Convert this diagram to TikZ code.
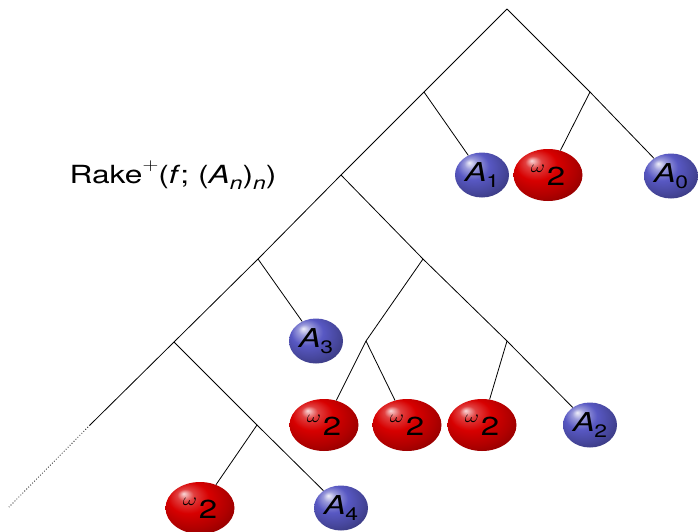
\documentclass[tikz,border=0pt]{standalone}
\usepackage{fontspec}
\setmainfont{TeX Gyre Heros}
\usetikzlibrary{shapes.geometric}
\definecolor{bb}{RGB}{88,88,195}
\definecolor{rr}{RGB}{215,0,0}
\pgfdeclareradialshading{myblue}{\pgfpoint{-12bp}{14bp}}{color(0bp)=(bb!10!white); color(6bp)=(bb!60!white); color(15bp)=(bb); color(26bp)=(bb!80!black); color(38bp)=(bb!55!black); color(50bp)=(bb!35!black)}
\pgfdeclareradialshading{myred}{\pgfpoint{-12bp}{14bp}}{color(0bp)=(rr!15!white); color(6bp)=(rr!75!white); color(15bp)=(rr); color(26bp)=(rr!82!black); color(38bp)=(rr!58!black); color(50bp)=(rr!38!black)}
\newcommand{\hs}[1]{\scalebox{1.27}[1]{#1}}
\newcommand{\sub}[1]{\raisebox{-0.22em}{\fontsize{18}{18}\selectfont #1}}
\newcommand{\Aleaf}[1]{\hs{\textit{A}\kern-0.5pt\sub{#1}}}
\newcommand{\oleaf}{\hs{\raisebox{0.5em}{\fontsize{18}{18}\selectfont$\omega$}\kern1.5pt 2}}
\begin{document}
\begin{tikzpicture}[x=1pt,y=-1pt,
  edge/.style={draw=black,line width=0.8pt},
  bleaf/.style={ellipse,shading=myblue,inner sep=0pt,
    minimum width=54pt,minimum height=45pt,font=\fontsize{26}{30}\selectfont},
  rleaf/.style={ellipse,shading=myred,inner sep=0pt,
    minimum width=69pt,minimum height=52pt,font=\fontsize{26}{30}\selectfont},
  lbl/.style={font=\fontsize{25}{30}\selectfont,inner sep=0pt}]
\useasboundingbox (0,0) rectangle (698,532);
% internal points
\coordinate (r) at (507,9);
\coordinate (n1) at (424,92);
\coordinate (n2) at (590,92);
\coordinate (n3) at (341,175);
\coordinate (n4) at (258,259);
\coordinate (n5) at (423,259);
\coordinate (n6) at (174,342);
\coordinate (n7) at (366,341);
\coordinate (n8) at (507,341);
\coordinate (n9) at (90,425);
\coordinate (n10) at (257,425);
\coordinate (e) at (9,507);
% leaves
\node[bleaf] (a1) at (482,175) {\Aleaf{1}};
\node[rleaf] (w1) at (548,175) {\oleaf};
\node[bleaf] (a0) at (671,176) {\Aleaf{0}};
\node[bleaf] (a3) at (316,341) {\Aleaf{3}};
\node[rleaf] (w2) at (324,425) {\oleaf};
\node[rleaf] (w3) at (407,425) {\oleaf};
\node[rleaf] (w4) at (482,425) {\oleaf};
\node[bleaf] (a2) at (590,425) {\Aleaf{2}};
\node[rleaf] (w5) at (200,508) {\oleaf};
\node[bleaf] (a4) at (341,508) {\Aleaf{4}};
\node[lbl] (t) at (173,175) {\hs{Rake\raisebox{0.55em}{\fontsize{17}{17}\selectfont$+$}(\textit{f}; (\textit{A}\sub{\textit{n}})\sub{\textit{n}})}};
% edges
\draw[edge] (r) -- (n1) -- (n3) -- (n4) -- (n6) -- (n9);
\draw[edge,dotted] (n9) -- (e);
\draw[edge] (r) -- (n2);
\draw[edge] (n2) -- (a0);
\draw[edge] (n2) -- (w1);
\draw[edge] (n1) -- (a1);
\draw[edge] (n3) -- (n5) -- (n8);
\draw[edge] (n8) -- (a2);
\draw[edge] (n8) -- (w4);
\draw[edge] (n5) -- (n7);
\draw[edge] (n7) -- (w2);
\draw[edge] (n7) -- (w3);
\draw[edge] (n4) -- (a3);
\draw[edge] (n6) -- (n10);
\draw[edge] (n10) -- (a4);
\draw[edge] (n10) -- (w5);
\end{tikzpicture}
\end{document}
